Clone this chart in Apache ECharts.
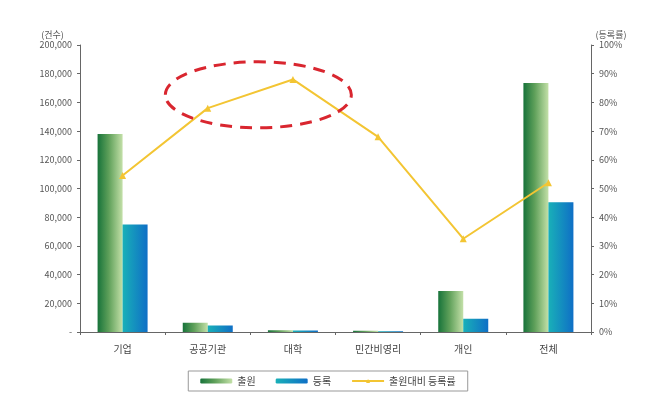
<!DOCTYPE html>
<html><head><meta charset="utf-8">
<script src="https://cdn.jsdelivr.net/npm/echarts@6/dist/echarts.min.js"></script>
<style>html,body{margin:0;padding:0;background:#fff}#c{width:656px;height:394px}</style>
</head><body><div id="c"></div>
<script>
const categories = ['기업', '공공기관', '대학', '민간비영리', '개인', '전체'];
const applications = [138000, 6500, 1200, 900, 28500, 173500];
const registrations = [75000, 4600, 1000, 600, 9200, 90500];
const regRate = [54.5, 78, 88, 68, 32.5, 52];
const leftTicks = [0, 20000, 40000, 60000, 80000, 100000, 120000, 140000, 160000, 180000, 200000];
const rightTicks = [0, 10, 20, 30, 40, 50, 60, 70, 80, 90, 100];
const seriesNames = ['출원', '등록', '출원대비 등록률'];

const font = '"Noto Sans CJK KR", "Noto Sans", sans-serif';
const chart = echarts.init(document.getElementById('c'));
const greenGrad = new echarts.graphic.LinearGradient(0, 0, 1, 0, [
  {offset: 0, color: '#17733a'}, {offset: 0.45, color: '#5fa05a'}, {offset: 1, color: '#c3e0a8'}]);
const blueGrad = new echarts.graphic.LinearGradient(0, 0, 1, 0, [
  {offset: 0, color: '#19b0b8'}, {offset: 1, color: '#0f6fc6'}]);
const axisLabel = {color: '#555', fontSize: 9, fontFamily: font};
chart.setOption({
  animation: false,
  textStyle: {fontFamily: font},
  grid: {left: 80, right: 65, top: 45, bottom: 62},
  legend: {
    bottom: 3, left: 'center',
    data: seriesNames,
    itemWidth: 32, itemHeight: 5, itemGap: 20,
    borderColor: '#999', borderWidth: 1, padding: [5, 12],
    textStyle: {color: '#444', fontSize: 10, fontFamily: font}
  },
  xAxis: {
    type: 'category', data: categories,
    axisLine: {lineStyle: {color: '#666'}},
    axisTick: {show: true, alignWithLabel: false, length: 3, lineStyle: {color: '#666'}},
    axisLabel: {color: '#444', fontSize: 10, fontFamily: font, margin: 12}
  },
  yAxis: [{
    type: 'value', min: leftTicks[0], max: leftTicks[leftTicks.length - 1], interval: 20000,
    name: '(건수)', nameGap: 6,
    nameTextStyle: {color: '#555', fontSize: 9, fontFamily: font, padding: [0, 55, 0, 0]},
    axisLine: {show: true, lineStyle: {color: '#666'}},
    axisTick: {show: true, length: 3, lineStyle: {color: '#666'}},
    splitLine: {show: false},
    axisLabel: Object.assign({}, axisLabel, {
      formatter: v => v === 0 ? '-' : v.toLocaleString('en-US')})
  }, {
    type: 'value', min: rightTicks[0], max: rightTicks[rightTicks.length - 1], interval: 10,
    name: '(등록률)', nameGap: 6,
    nameTextStyle: {color: '#555', fontSize: 9, fontFamily: font, padding: [0, 0, 0, 40]},
    axisLine: {show: true, lineStyle: {color: '#666'}},
    axisTick: {show: true, length: 3, lineStyle: {color: '#666'}},
    splitLine: {show: false},
    axisLabel: Object.assign({}, axisLabel, {formatter: '{value}%'})
  }],
  series: [{
    name: seriesNames[0], type: 'bar', data: applications, barWidth: 25, barGap: '0%',
    itemStyle: {color: greenGrad}
  }, {
    name: seriesNames[1], type: 'bar', data: registrations, barWidth: 25,
    itemStyle: {color: blueGrad}
  }, {
    name: seriesNames[2], type: 'line', yAxisIndex: 1, data: regRate,
    symbol: 'triangle', symbolSize: 7,
    lineStyle: {color: '#f3c533', width: 2},
    itemStyle: {color: '#f3c533'}
  }]
});
// annotation ellipse around 공공기관–대학 rates
const p1 = chart.convertToPixel({xAxisIndex: 0, yAxisIndex: 1}, [1, regRate[1]]);
const p2 = chart.convertToPixel({xAxisIndex: 0, yAxisIndex: 1}, [2, regRate[2]]);
const cx = (p1[0] + p2[0]) / 2 + 8, cy = (p1[1] + p2[1]) / 2 + 1;
chart.setOption({
  graphic: [{
    type: 'ellipse', shape: {cx: cx, cy: cy, rx: 93, ry: 33},
    style: {fill: 'none', stroke: '#d9262f', lineWidth: 3, lineDash: [12, 8]}, z: 100
  }]
});
</script></body></html>
